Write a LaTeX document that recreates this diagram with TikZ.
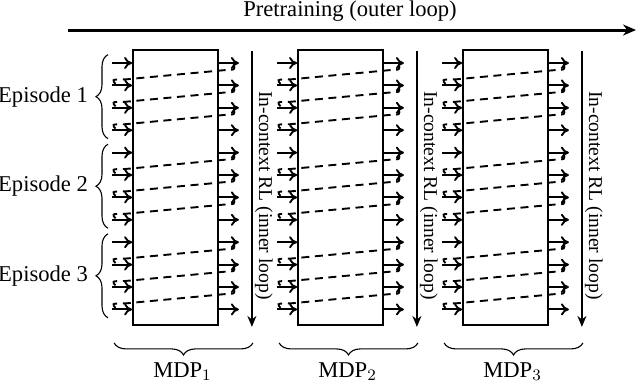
\documentclass[tikz,border=0pt]{standalone}
\usepackage{fontspec}
\setmainfont{Liberation Serif}
\usetikzlibrary{arrows.meta,decorations.pathreplacing,calc}

\begin{document}
\begin{tikzpicture}[
  x=0.5pt,y=-0.5pt,
  every node/.style={font=\fontsize{11.3}{13}\selectfont},
  mdp/.style={draw,line width=0.9pt,minimum width=42.5pt,
    minimum height=137.5pt,inner sep=0pt},
  io/.style={-{To[length=4pt,width=6pt]},line width=0.95pt},
  ret/.style={line width=0.95pt,dash pattern=on 4pt off 2.8pt},
  loop/.style={-{Stealth[length=5.5pt,width=4.5pt]},line width=0.7pt},
  outer/.style={-{Stealth[length=6.5pt,width=5.5pt]},line width=1.5pt},
  brc/.style={decorate,decoration={brace,amplitude=6pt},line width=0.55pt}
]
  \useasboundingbox (0,0) rectangle (640,388);

  % outer loop
  \coordinate (pre-a) at (68,30);
  \coordinate (pre-b) at (636,30);
  \draw[outer] (pre-a) -- (pre-b);
  \node (pre) at (350,11) {Pretraining (outer loop)};

  % episodes
  \foreach \e/\yc in {1/96.6,2/186.2,3/275.8}{
    \node[anchor=east] (ep\e) at (95,\yc) {Episode \e};
    \draw[brc] (108,\yc+42) -- (108,\yc-42);
  }

  \foreach \k in {1,2,3}{
    \pgfmathsetmacro\xc{175.5+165*(\k-1)}
    \node[mdp] (mdp\k) at (\xc,187.5) {};
    % inner loop
    \coordinate (in\k-a) at ($(mdp\k.north east)+(33,2)$);
    \coordinate (in\k-b) at ($(mdp\k.south east)+(33,1)$);
    \draw[loop] (in\k-a) -- (in\k-b);
    \node[rotate=-90,font=\fontsize{9.8}{11}\selectfont] (icrl\k)
      at ($(mdp\k.east)+(45,8)$) {In-context RL (inner loop)};
    % task
    \draw[brc] ($(mdp\k.south east)+(34,17)$) -- ($(mdp\k.south west)+(-18,17)$);
    \node (lbl\k) at ($(mdp\k.south)+(7,46)$) {MDP$_\k$};
    \foreach \i in {0,...,11}{
      \pgfmathsetmacro\y{63+22.4*\i}
      \pgfmathtruncatemacro\j{mod(\i,4)}
      \coordinate (l\k-\i) at (mdp\k.west |- 0,\y);
      \coordinate (r\k-\i) at (mdp\k.east |- 0,\y);
      \draw[io] ($(l\k-\i)+(-20,0)$) -- (l\k-\i);
      \draw[io] (r\k-\i) -- ($(r\k-\i)+(20,0)$);
      \ifnum\j<3
        \pgfmathsetmacro\yn{63+22.4*(\i+1)}
        \draw[ret] ($(r\k-\i)+(15,1)$) .. controls ($(r\k-\i)+(16,7)$) ..
          ($(r\k-\i)+(7,7)$) -- ($(mdp\k.west |- 0,\yn)+(-7,-6)$)
          .. controls ($(mdp\k.west |- 0,\yn)+(-21,-6)$) ..
          ($(mdp\k.west |- 0,\yn)+(-15,0)$);
      \fi
    }
  }
\end{tikzpicture}
\end{document}
